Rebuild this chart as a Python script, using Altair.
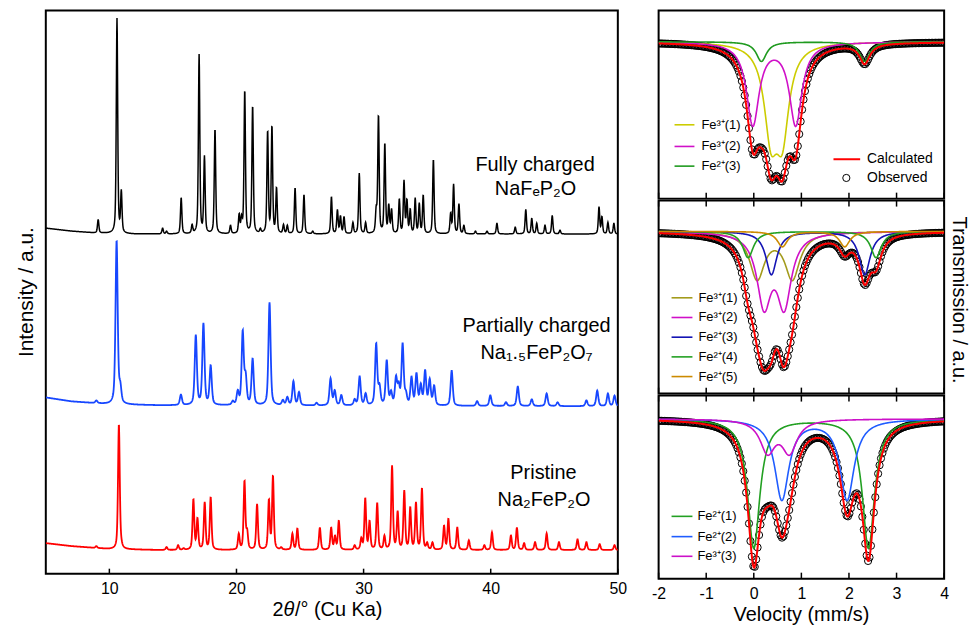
import numpy as np
import pandas as pd
import altair as alt

alt.data_transformers.disable_max_rows()
FONT = "Liberation Sans"

# ---------------- XRD (left panel) ----------------
TT_RANGE = [5, 50]
XRD_TICKS = [10, 20, 30, 40, 50]

# Fully charged (black): peak 2theta and height above baseline
FULL_POS = [9.12, 10.60, 10.94, 14.19, 14.5, 15.65, 16.51, 17.06, 17.48, 18.31, 19.53, 20.21, 20.40, 20.65,
            21.27, 21.88, 22.45, 22.79, 23.15, 23.7, 24.0, 24.61, 25.31, 26.0, 27.47, 27.94, 28.18, 28.46,
            29.16, 29.66, 30.16, 30.99, 31.17, 31.67, 31.98, 32.2, 32.81, 33.18, 33.41, 33.67, 34.06, 34.38,
            34.69, 35.49, 36.85, 37.08, 37.5, 37.89, 38.8, 39.71, 40.49, 41.93, 42.76, 43.23, 43.62, 44.27,
            44.84, 45.45, 48.52, 48.75, 49.22, 49.69]
FULL_H = [14, 219, 45, 6, 3, 37, 10, 183, 80, 107, 9, 21, 20, 147,
          131, 6, 106, 111, 48, 10, 9, 47, 40, 3, 38, 25, 19, 18,
          12, 62, 12, 29, 122, 93, 31, 26, 36, 55, 36, 26, 37, 32,
          40, 76, 22, 51, 31, 9, 3, 3, 11, 7, 25, 16, 11, 9,
          19, 4, 28, 18, 12, 11]
FULL_BASE_X = [5, 7, 9, 12, 50]
FULL_BASE_Y = [351, 348, 346, 345, 345]

# Partially charged (blue)
PART_POS = [8.98, 10.57, 10.86, 15.63, 16.8, 17.4, 17.97, 19.71, 20.1, 20.49, 20.72, 21.27, 22.6, 23.65,
            24.0, 24.48, 24.92, 26.3, 27.4, 27.73, 28.25, 29.3, 29.69, 30.16, 30.99, 31.25, 31.82, 32.16,
            32.55, 32.76, 33.07, 33.33, 33.77, 34.16, 34.5, 34.84, 35.2, 35.55, 36.93, 38.93, 39.97, 41.2,
            42.13, 43.23, 44.4, 45.26, 47.53, 48.38, 49.22, 49.74]
PART_H = [3, 167, 24, 11, 72, 84, 41, 5, 16, 77, 35, 48, 105, 6,
          9, 25, 14, 3, 28, 16, 11, 7, 30, 13, 64, 23, 47, 16,
          31, 25, 64, 16, 30, 34, 23, 37, 28, 21, 36, 5, 11, 4,
          20, 7, 13, 4, 6, 16, 13, 11]
PART_BASE_X = [5, 7, 10, 14, 50]
PART_BASE_Y = [179, 175, 172, 171, 170]

# Pristine (red)
PRIS_POS = [8.98, 10.75, 10.94, 14.5, 15.41, 15.84, 16.61, 16.93, 17.5, 17.97, 20.18, 20.63, 20.84, 21.62,
            22.55, 22.87, 23.52, 24.4, 24.79, 26.56, 27.45, 27.75, 28.05, 29.3, 29.82, 30.13, 30.47, 31.07,
            31.64, 32.24, 32.68, 33.2, 33.67, 34.12, 34.59, 35.0, 35.42, 36.33, 36.67, 37.37, 38.28, 39.5,
            40.1, 41.59, 42.06, 42.63, 43.49, 44.4, 45.37, 46.83, 47.53, 48.57, 49.74]
PRIS_H = [2, 127, 13, 3, 5, 2, 52, 33, 49, 54, 17, 71, 22, 47,
          52, 76, 3, 17, 22, 23, 23, 15, 30, 5, 13, 53, 30, 48,
          15, 86, 40, 61, 44, 49, 63, 8, 8, 25, 32, 23, 10, 5,
          18, 15, 23, 7, 8, 17, 8, 11, 8, 6, 5]
PRIS_BASE_X = [5, 7, 10, 14, 50]
PRIS_BASE_Y = [31, 28, 25, 24, 24]

XRD_SERIES = [
    ("Fully charged", FULL_POS, FULL_H, FULL_BASE_X, FULL_BASE_Y, 0.13, "#000000", 1.5),
    ("Partially charged", PART_POS, PART_H, PART_BASE_X, PART_BASE_Y, 0.20, "#1747ff", 1.8),
    ("Pristine", PRIS_POS, PRIS_H, PRIS_BASE_X, PRIS_BASE_Y, 0.16, "#ff0000", 1.8),
]

# ---------------- Mossbauer (right panels) ----------------
V_RANGE = [-2, 4]
V_TICKS = [-2, -1, 0, 1, 2, 3, 4]

# (label, colour, line centres, depths at minima, linewidth)
TOP_COMPS = [
    ("Fe³⁺(1)", "#cccc00", [0.36, 0.60], [114, 114], 0.34),
    ("Fe³⁺(2)", "#d010c8", [-0.02, 0.88], [86, 86], 0.32),
    ("Fe²⁺(3)", "#1f9a1f", [0.16, 2.33], [20, 20], 0.26),
]
MID_COMPS = [
    ("Fe³⁺(1)", "#a39b1c", [0.07, 0.81], [50, 50], 0.38),
    ("Fe³⁺(2)", "#d010c8", [0.215, 0.64], [82, 82], 0.36),
    ("Fe²⁺(3)", "#1414b4", [0.37, 2.33], [44, 44], 0.28),
    ("Fe²⁺(4)", "#22a022", [-0.12, 2.57], [26.7, 26.7], 0.27),
    ("Fe²⁺(5)", "#cc8a00", [0.60, 1.91], [15.7, 15.7], 0.26),
]
BOT_COMPS = [
    ("Fe²⁺(1)", "#22a022", [0.0, 2.41], [131.6, 131.6], 0.31),
    ("Fe²⁺(2)", "#1f5cff", [0.59, 1.96], [83, 83], 0.36),
    ("Fe³⁺(3)", "#cc10c8", [0.29, 0.75], [37, 37], 0.38),
]

TT = np.arange(5, 50.0001, 0.02)
VV = np.linspace(-2, 4, 601)
VOBS = np.linspace(-2, 4, 200)


def pv(d, fwhm):
    u = (2 * d / fwhm) ** 2
    return 0.5 * np.exp(-np.log(2) * u) + 0.5 / (1 + u)


def xrd_curve(pos, h, bx, by, fwhm):
    pos = np.array(pos, float)
    h = np.array(h, float)
    M = pv(pos[:, None] - pos[None, :], fwhm)
    A = np.clip(np.linalg.solve(M, h), 0, None)
    return np.interp(TT, bx, by) + (A[None, :] * pv(TT[:, None] - pos[None, :], fwhm)).sum(1)


def lor(d, g):
    return 1.0 / (1.0 + (2 * d / g) ** 2)


def doublet(v, c, depth, g):
    L = lor(c[0] - c[1], g)
    A = np.linalg.solve(np.array([[1, L], [L, 1]]), np.array(depth, float))
    return A[0] * lor(v - c[0], g) + A[1] * lor(v - c[1], g)


dummy = pd.DataFrame({"k": [0]})


def txt(s, x, y, size, align="left", baseline="alphabetic", angle=None, style="normal"):
    kw = dict(text=s, font=FONT, fontSize=size, align=align, baseline=baseline,
              color="black", fontStyle=style)
    if angle is not None:
        kw["angle"] = angle
    return alt.Chart(dummy).mark_text(**kw).encode(x=alt.value(x), y=alt.value(y))


def hline(x1, x2, y, color, width=1.6):
    return alt.Chart(dummy).mark_rule(color=color, strokeWidth=width).encode(
        x=alt.value(x1), x2=alt.value(x2), y=alt.value(y))


TITLE_GAP = 43   # baseline of x titles below the plot bottom
TITLE_SIZE = 20

# ---------- left chart ----------
LW, LH = 575, 566
LF = LH / 572.0
XF = LW / 577.0
xs_l = alt.Scale(domain=TT_RANGE, nice=False, zero=False)
ys_l = alt.Scale(domain=[0, 572], nice=False, zero=False)
ax_l = alt.Axis(values=XRD_TICKS, title=None, grid=False, domain=False, ticks=False, tickSize=0,
                labelPadding=7, labelFlush=False, labelOverlap=False)

left_layers = []
for name, pos, h, bx, by, fw, col, sw in XRD_SERIES:
    df = pd.DataFrame({"tt": np.round(TT, 3), "I": np.round(xrd_curve(pos, h, bx, by, fw), 2)})
    left_layers.append(
        alt.Chart(df).mark_line(color=col, strokeWidth=sw, clip=True).encode(
            x=alt.X("tt:Q", scale=xs_l, axis=ax_l),
            y=alt.Y("I:Q", scale=ys_l, axis=None)))

left_layers.append(
    alt.Chart(pd.DataFrame({"t": XRD_TICKS})).mark_rule(color="black", strokeWidth=1.5).encode(
        x=alt.X("t:Q", scale=xs_l, axis=ax_l), y=alt.value(LH - 5), y2=alt.value(LH)))

left_layers += [
    txt("Fully charged", 493.5 * XF, 163 * LF, 20, align="center"),
    txt("NaFₑP₂O", 494 * XF, 187 * LF, 20, align="center"),
    txt("Partially charged", 495 * XF, 327 * LF, 20, align="center"),
    txt("Na₁.₅FeP₂O₇", 495 * XF, 354 * LF, 20, align="center"),
    txt("Pristine", 502 * XF, 476 * LF, 20, align="center"),
    txt("Na₂FeP₂O", 502.5 * XF, 503 * LF, 20, align="center"),
    txt("Intensity / a.u.", -13, LH / 2, 21, align="center", angle=270),
    txt("2", 228, LH + TITLE_GAP, TITLE_SIZE),
    txt("θ", 239, LH + TITLE_GAP, TITLE_SIZE, style="italic"),
    txt("/° (Cu Ka)", 250.5, LH + TITLE_GAP, TITLE_SIZE),
]
left = alt.layer(*left_layers).properties(width=LW, height=LH)

# ---------- right panels ----------
RW = 287
RXF = RW / 289.0


def moss_panel(comps, height, ydom, top_ticks, bottom_axis, extras):
    xs = alt.Scale(domain=V_RANGE, nice=False, zero=False)
    ys = alt.Scale(domain=ydom, nice=False, zero=False)
    xaxis = None
    if bottom_axis:
        xaxis = alt.Axis(values=V_TICKS, title=None, grid=False, domain=False, ticks=False, tickSize=0,
                         labelPadding=7, labelFlush=False, labelOverlap=False,
                         labelExpr="'' + datum.value")
    total = np.zeros_like(VV)
    total_obs = np.zeros_like(VOBS)
    comp_layers = []
    for label, col, c, dep, g in comps:
        yv = doublet(VV, c, dep, g)
        total += yv
        total_obs += doublet(VOBS, c, dep, g)
        df = pd.DataFrame({"v": np.round(VV, 3), "y": np.round(-yv, 2)})
        comp_layers.append(alt.Chart(df).mark_line(color=col, strokeWidth=1.6, clip=True).encode(
            x=alt.X("v:Q", scale=xs, axis=xaxis), y=alt.Y("y:Q", scale=ys, axis=None)))
    obs = alt.Chart(pd.DataFrame({"v": np.round(VOBS, 3), "y": np.round(-total_obs, 2)})).mark_point(
        shape="circle", filled=False, size=52, color="black", strokeWidth=1.0, opacity=1, clip=True).encode(
        x=alt.X("v:Q", scale=xs, axis=xaxis), y=alt.Y("y:Q", scale=ys, axis=None))
    calc = alt.Chart(pd.DataFrame({"v": np.round(VV, 3), "y": np.round(-total, 2)})).mark_line(
        color="#ff0000", strokeWidth=2, clip=True).encode(
        x=alt.X("v:Q", scale=xs, axis=xaxis), y=alt.Y("y:Q", scale=ys, axis=None))
    layers = [obs] + comp_layers + [calc]
    tdf = pd.DataFrame({"t": V_TICKS})
    layers.append(alt.Chart(tdf).mark_rule(color="black", strokeWidth=1.5).encode(
        x=alt.X("t:Q", scale=xs, axis=xaxis), y=alt.value(height - 6), y2=alt.value(height)))
    if top_ticks:
        layers.append(alt.Chart(tdf).mark_rule(color="black", strokeWidth=1.5).encode(
            x=alt.X("t:Q", scale=xs, axis=xaxis), y=alt.value(0), y2=alt.value(6)))
    layers += extras
    return alt.layer(*layers).properties(width=RW, height=height)


def comp_legend(comps, x1, x2, xt, ys):
    out = []
    for (label, col, *_), y in zip(comps, ys):
        out.append(hline(x1, x2, y, col))
        out.append(txt(label, xt, y, 13, baseline="middle"))
    return out


TOP_H, MID_H, BOT_H = 189, 194, 184
TF, MF, BF = TOP_H / 191.0, MID_H / 196.0, BOT_H / 186.0

top_extras = comp_legend(TOP_COMPS, 16, 36, 43, [116 * TF, 138 * TF, 158 * TF]) + [
    hline(177 * RXF, 204 * RXF, 151 * TF, "#ff0000", 2),
    txt("Calculated", 211 * RXF, 151 * TF, 14, baseline="middle"),
    alt.Chart(dummy).mark_point(shape="circle", filled=False, size=52, color="black",
                                strokeWidth=1.0, opacity=1).encode(x=alt.value(190 * RXF), y=alt.value(170 * TF)),
    txt("Observed", 211 * RXF, 170 * TF, 14, baseline="middle"),
]
mid_extras = comp_legend(MID_COMPS, 13, 34, 40, [y * MF for y in [98.7, 118.7, 138.7, 158.7, 178.7]]) + [
    txt("Transmission / a.u.", 296, 101 * MF, 20, align="center", angle=90),
]
bot_extras = comp_legend(BOT_COMPS, 13, 34, 39, [y * BF for y in [122.7, 143.3, 163.3]]) + [
    txt("Velocity (mm/s)", RW / 2, BOT_H + TITLE_GAP, TITLE_SIZE, align="center"),
]

top = moss_panel(TOP_COMPS, TOP_H, [-159.3, 31.7], False, False, top_extras)
mid = moss_panel(MID_COMPS, MID_H, [-164.7, 31.3], True, False, mid_extras)
bot = moss_panel(BOT_COMPS, BOT_H, [-162.3, 23.7], True, True, bot_extras)

right = alt.vconcat(top, mid, bot, spacing=-4)

chart = (
    alt.hconcat(left, right, spacing=22)
    .properties(padding={"left": 7, "top": 0, "right": 0, "bottom": 0}, background="white")
    .configure_view(stroke="black", strokeWidth=2)
    .configure_axis(labelFont=FONT, labelFontSize=16, labelColor="black", grid=False)
)

chart.save("out.html", embed_options={"renderer": "svg", "actions": False})
